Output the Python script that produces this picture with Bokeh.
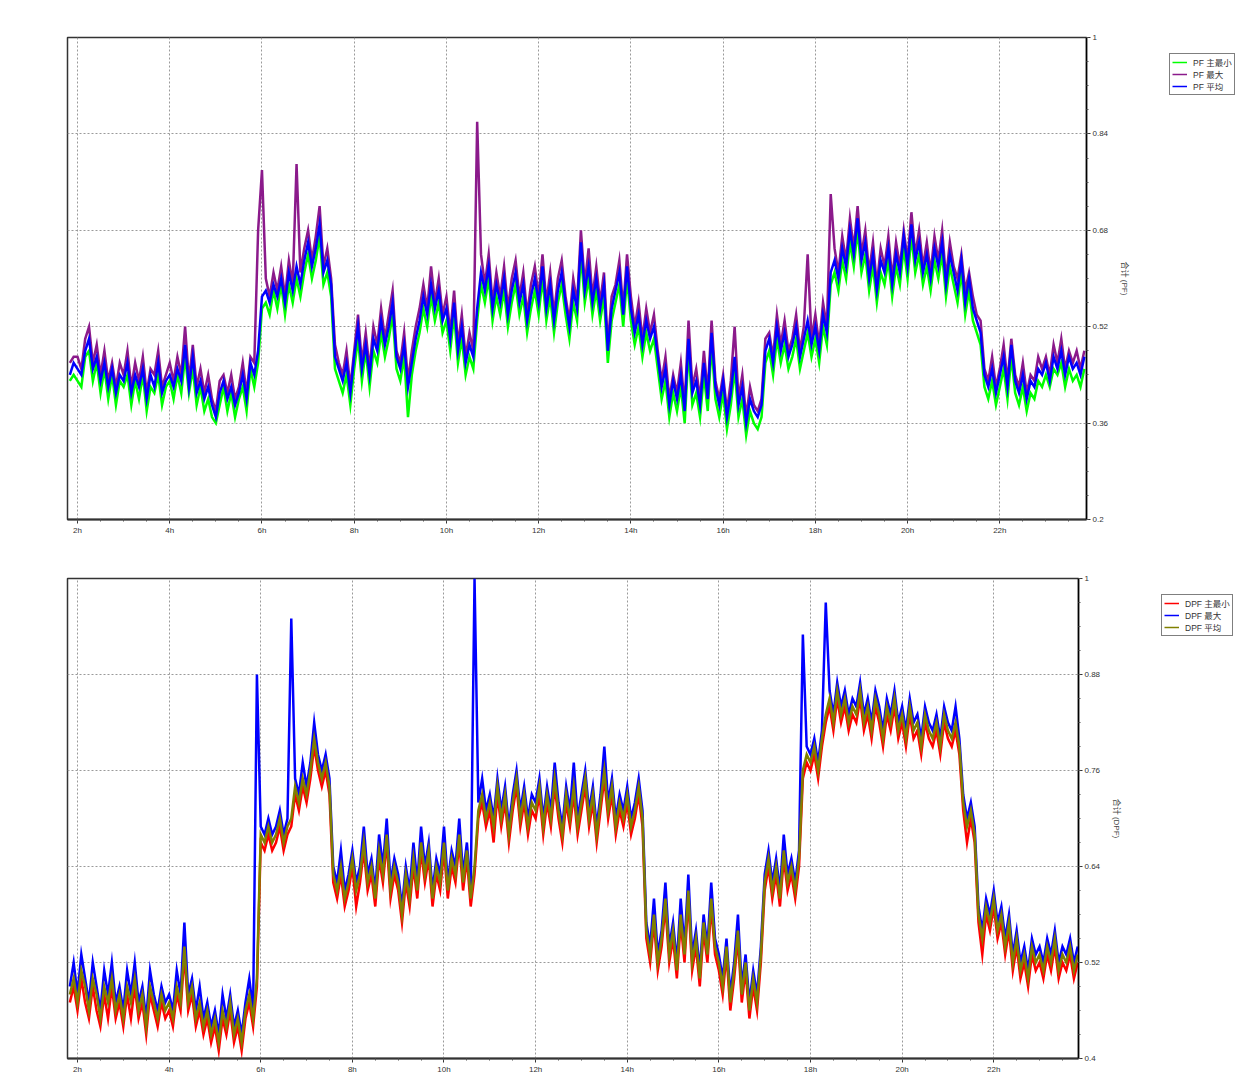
import numpy as np
from bokeh.plotting import figure
from bokeh.models import (Range1d, FixedTicker, CustomJSTickFormatter, Legend,
                          LegendItem, ColumnDataSource)
from bokeh.layouts import row
from bokeh.embed import file_html
from bokeh.resources import INLINE

# ---- sampling grid (5-minute samples starting 01:50) ----
START_HOUR = 1 + 50 / 60
STEP_HOURS = 5 / 60

# ---- panel 1 : PF ----
PF_MIN = [
    0.43, 0.44,
    0.43, 0.42, 0.47, 0.48, 0.43, 0.46, 0.41, 0.45, 0.40, 0.44, 0.39, 0.43,
    0.42, 0.44, 0.39, 0.43, 0.40, 0.44, 0.38, 0.42, 0.41, 0.44, 0.39, 0.42,
    0.43, 0.40, 0.44, 0.41, 0.47, 0.41, 0.45, 0.39, 0.42, 0.38, 0.40, 0.37,
    0.36, 0.39, 0.42, 0.38, 0.41, 0.37, 0.40, 0.42, 0.38, 0.45, 0.42, 0.46,
    0.55, 0.56, 0.54, 0.58, 0.55, 0.59, 0.54, 0.59, 0.56, 0.60, 0.57, 0.61,
    0.64, 0.60, 0.63, 0.67, 0.59, 0.61, 0.57, 0.45, 0.43, 0.41, 0.44, 0.39,
    0.45, 0.50, 0.43, 0.48, 0.42, 0.48, 0.46, 0.51, 0.47, 0.50, 0.54, 0.45,
    0.43, 0.47, 0.37, 0.44, 0.48, 0.51, 0.55, 0.52, 0.57, 0.53, 0.56, 0.51,
    0.53, 0.48, 0.54, 0.46, 0.50, 0.44, 0.47, 0.45, 0.53, 0.59, 0.56, 0.60,
    0.53, 0.57, 0.54, 0.58, 0.52, 0.56, 0.59, 0.54, 0.57, 0.51, 0.55, 0.58,
    0.54, 0.60, 0.53, 0.57, 0.51, 0.56, 0.59, 0.54, 0.50, 0.56, 0.53, 0.64,
    0.56, 0.60, 0.54, 0.58, 0.53, 0.57, 0.46, 0.53, 0.56, 0.59, 0.52, 0.60,
    0.53, 0.49, 0.52, 0.47, 0.51, 0.48, 0.50, 0.45, 0.40, 0.43, 0.37, 0.41,
    0.38, 0.42, 0.36, 0.48, 0.39, 0.41, 0.37, 0.44, 0.38, 0.49, 0.40, 0.37,
    0.41, 0.35, 0.39, 0.45, 0.37, 0.40, 0.34, 0.38, 0.36, 0.35, 0.37, 0.46,
    0.48, 0.44, 0.50, 0.46, 0.49, 0.45, 0.47, 0.50, 0.45, 0.48, 0.51, 0.47,
    0.50, 0.46, 0.52, 0.49, 0.59, 0.61, 0.58, 0.63, 0.60, 0.66, 0.62, 0.68,
    0.61, 0.64, 0.58, 0.62, 0.56, 0.61, 0.59, 0.63, 0.57, 0.62, 0.59, 0.65,
    0.60, 0.67, 0.61, 0.64, 0.59, 0.62, 0.58, 0.63, 0.60, 0.64, 0.57, 0.62,
    0.59, 0.56, 0.61, 0.54, 0.58, 0.53, 0.51, 0.49, 0.42, 0.40, 0.43, 0.39,
    0.42, 0.45, 0.40, 0.47, 0.41, 0.39, 0.42, 0.38, 0.41, 0.40, 0.43, 0.42,
    0.44, 0.42, 0.45, 0.44, 0.46, 0.42, 0.45, 0.43, 0.44, 0.42, 0.45,
]
PF_MAX = [
    0.46, 0.47,
    0.47, 0.45, 0.50, 0.52, 0.46, 0.49, 0.44, 0.48, 0.43, 0.46, 0.42, 0.46,
    0.44, 0.48, 0.42, 0.46, 0.43, 0.47, 0.41, 0.45, 0.44, 0.48, 0.42, 0.44,
    0.46, 0.43, 0.47, 0.44, 0.52, 0.43, 0.49, 0.42, 0.45, 0.41, 0.44, 0.40,
    0.38, 0.43, 0.44, 0.41, 0.44, 0.40, 0.42, 0.46, 0.41, 0.47, 0.46, 0.68,
    0.78, 0.60, 0.57, 0.61, 0.58, 0.62, 0.57, 0.63, 0.59, 0.79, 0.61, 0.65,
    0.68, 0.63, 0.67, 0.72, 0.62, 0.65, 0.60, 0.49, 0.46, 0.44, 0.48, 0.42,
    0.48, 0.54, 0.46, 0.51, 0.45, 0.52, 0.49, 0.55, 0.50, 0.54, 0.58, 0.48,
    0.46, 0.51, 0.43, 0.48, 0.52, 0.55, 0.59, 0.55, 0.62, 0.56, 0.60, 0.54,
    0.57, 0.51, 0.58, 0.49, 0.54, 0.47, 0.51, 0.48, 0.86, 0.64, 0.59, 0.64,
    0.56, 0.61, 0.57, 0.62, 0.55, 0.60, 0.63, 0.57, 0.61, 0.54, 0.59, 0.62,
    0.57, 0.64, 0.56, 0.61, 0.54, 0.60, 0.63, 0.57, 0.53, 0.60, 0.56, 0.68,
    0.59, 0.65, 0.57, 0.62, 0.56, 0.61, 0.49, 0.57, 0.59, 0.63, 0.55, 0.64,
    0.57, 0.52, 0.56, 0.50, 0.55, 0.51, 0.54, 0.48, 0.43, 0.47, 0.40, 0.44,
    0.41, 0.46, 0.39, 0.53, 0.42, 0.45, 0.40, 0.48, 0.41, 0.53, 0.43, 0.40,
    0.44, 0.38, 0.43, 0.52, 0.40, 0.44, 0.37, 0.42, 0.39, 0.38, 0.40, 0.50,
    0.51, 0.47, 0.54, 0.49, 0.53, 0.48, 0.50, 0.54, 0.48, 0.52, 0.64, 0.50,
    0.54, 0.49, 0.56, 0.52, 0.74, 0.65, 0.61, 0.67, 0.63, 0.70, 0.65, 0.72,
    0.64, 0.68, 0.61, 0.66, 0.59, 0.65, 0.62, 0.67, 0.60, 0.66, 0.62, 0.68,
    0.63, 0.71, 0.64, 0.68, 0.62, 0.66, 0.61, 0.67, 0.63, 0.68, 0.60, 0.66,
    0.62, 0.60, 0.64, 0.58, 0.61, 0.57, 0.54, 0.53, 0.45, 0.43, 0.47, 0.42,
    0.45, 0.49, 0.43, 0.50, 0.44, 0.42, 0.46, 0.41, 0.44, 0.43, 0.47, 0.45,
    0.47, 0.44, 0.49, 0.46, 0.50, 0.45, 0.48, 0.46, 0.48, 0.45, 0.48,
]
PF_AVG = [
    0.44, 0.46,
    0.45, 0.44, 0.48, 0.50, 0.45, 0.47, 0.43, 0.46, 0.42, 0.45, 0.41, 0.44,
    0.43, 0.46, 0.41, 0.44, 0.42, 0.45, 0.40, 0.44, 0.42, 0.46, 0.41, 0.43,
    0.44, 0.42, 0.45, 0.43, 0.49, 0.42, 0.47, 0.41, 0.43, 0.40, 0.42, 0.39,
    0.37, 0.41, 0.43, 0.40, 0.42, 0.39, 0.41, 0.44, 0.40, 0.46, 0.44, 0.48,
    0.57, 0.58, 0.56, 0.59, 0.57, 0.60, 0.56, 0.61, 0.58, 0.62, 0.59, 0.63,
    0.66, 0.62, 0.65, 0.69, 0.61, 0.63, 0.59, 0.47, 0.45, 0.43, 0.46, 0.41,
    0.47, 0.52, 0.45, 0.49, 0.44, 0.50, 0.48, 0.53, 0.49, 0.52, 0.56, 0.47,
    0.45, 0.49, 0.42, 0.46, 0.50, 0.53, 0.57, 0.54, 0.59, 0.55, 0.58, 0.53,
    0.55, 0.50, 0.56, 0.48, 0.52, 0.46, 0.49, 0.47, 0.55, 0.61, 0.58, 0.62,
    0.55, 0.59, 0.56, 0.60, 0.54, 0.58, 0.61, 0.56, 0.59, 0.53, 0.57, 0.60,
    0.56, 0.62, 0.55, 0.59, 0.53, 0.58, 0.61, 0.56, 0.52, 0.58, 0.55, 0.66,
    0.58, 0.62, 0.56, 0.60, 0.55, 0.59, 0.48, 0.55, 0.58, 0.61, 0.54, 0.62,
    0.55, 0.51, 0.54, 0.49, 0.53, 0.50, 0.52, 0.47, 0.42, 0.45, 0.39, 0.43,
    0.40, 0.44, 0.38, 0.50, 0.41, 0.43, 0.39, 0.46, 0.40, 0.51, 0.42, 0.39,
    0.43, 0.37, 0.41, 0.47, 0.39, 0.42, 0.36, 0.40, 0.38, 0.37, 0.39, 0.48,
    0.50, 0.46, 0.52, 0.48, 0.51, 0.47, 0.49, 0.52, 0.47, 0.50, 0.53, 0.49,
    0.52, 0.48, 0.54, 0.51, 0.61, 0.63, 0.60, 0.65, 0.62, 0.68, 0.64, 0.70,
    0.63, 0.66, 0.60, 0.64, 0.58, 0.63, 0.61, 0.65, 0.59, 0.64, 0.61, 0.67,
    0.62, 0.69, 0.63, 0.66, 0.61, 0.64, 0.60, 0.65, 0.62, 0.66, 0.59, 0.64,
    0.61, 0.58, 0.63, 0.56, 0.60, 0.55, 0.53, 0.51, 0.44, 0.42, 0.45, 0.41,
    0.44, 0.47, 0.42, 0.49, 0.43, 0.41, 0.44, 0.40, 0.43, 0.42, 0.45, 0.44,
    0.46, 0.43, 0.47, 0.45, 0.48, 0.44, 0.47, 0.45, 0.46, 0.44, 0.47,
]

# ---- panel 2 : DPF ----
DPF_MIN = [
    0.47, 0.49,
    0.46, 0.50, 0.47, 0.45, 0.49, 0.46, 0.44, 0.48, 0.45, 0.49, 0.45, 0.47,
    0.44, 0.48, 0.45, 0.49, 0.45, 0.47, 0.43, 0.48, 0.46, 0.44, 0.47, 0.45,
    0.46, 0.44, 0.48, 0.46, 0.53, 0.46, 0.48, 0.44, 0.46, 0.43, 0.45, 0.42,
    0.44, 0.41, 0.45, 0.43, 0.46, 0.42, 0.44, 0.41, 0.45, 0.47, 0.44, 0.49,
    0.67, 0.66, 0.68, 0.66, 0.67, 0.69, 0.66, 0.68, 0.69, 0.73, 0.71, 0.74,
    0.72, 0.75, 0.79, 0.76, 0.74, 0.76, 0.73, 0.62, 0.60, 0.63, 0.59, 0.61,
    0.64, 0.59, 0.62, 0.66, 0.61, 0.63, 0.59, 0.65, 0.62, 0.67, 0.60, 0.63,
    0.61, 0.57, 0.62, 0.59, 0.64, 0.60, 0.66, 0.62, 0.65, 0.59, 0.63, 0.61,
    0.66, 0.60, 0.64, 0.62, 0.67, 0.61, 0.65, 0.59, 0.63, 0.70, 0.72, 0.69,
    0.71, 0.67, 0.73, 0.69, 0.72, 0.67, 0.71, 0.74, 0.69, 0.72, 0.68, 0.71,
    0.70, 0.73, 0.68, 0.72, 0.69, 0.74, 0.70, 0.67, 0.72, 0.69, 0.73, 0.68,
    0.71, 0.74, 0.69, 0.72, 0.67, 0.71, 0.75, 0.70, 0.73, 0.68, 0.71, 0.69,
    0.72, 0.68, 0.70, 0.73, 0.69, 0.55, 0.52, 0.57, 0.51, 0.54, 0.59, 0.52,
    0.55, 0.50, 0.57, 0.52, 0.60, 0.51, 0.54, 0.49, 0.56, 0.52, 0.59, 0.53,
    0.51, 0.48, 0.53, 0.46, 0.50, 0.55, 0.47, 0.51, 0.45, 0.49, 0.46, 0.52,
    0.61, 0.64, 0.60, 0.63, 0.59, 0.65, 0.61, 0.63, 0.60, 0.64, 0.75, 0.77,
    0.76, 0.78, 0.75, 0.79, 0.82, 0.84, 0.81, 0.85, 0.82, 0.84, 0.81, 0.83,
    0.82, 0.85, 0.81, 0.83, 0.80, 0.84, 0.82, 0.79, 0.83, 0.81, 0.84, 0.80,
    0.82, 0.79, 0.83, 0.80, 0.81, 0.78, 0.82, 0.80, 0.79, 0.81, 0.78, 0.82,
    0.80, 0.79, 0.81, 0.78, 0.71, 0.67, 0.70, 0.67, 0.57, 0.53, 0.58, 0.56,
    0.59, 0.55, 0.57, 0.53, 0.56, 0.51, 0.54, 0.50, 0.52, 0.49, 0.53, 0.51,
    0.52, 0.50, 0.53, 0.51, 0.54, 0.50, 0.52, 0.51, 0.53, 0.50, 0.52,
]
DPF_MAX = [
    0.49, 0.52,
    0.48, 0.53, 0.50, 0.47, 0.52, 0.49, 0.46, 0.51, 0.48, 0.52, 0.47, 0.49,
    0.46, 0.51, 0.48, 0.52, 0.47, 0.49, 0.45, 0.51, 0.48, 0.46, 0.49, 0.47,
    0.48, 0.46, 0.51, 0.48, 0.57, 0.48, 0.50, 0.46, 0.49, 0.45, 0.47, 0.44,
    0.46, 0.43, 0.48, 0.45, 0.48, 0.44, 0.46, 0.43, 0.47, 0.50, 0.46, 0.88,
    0.69, 0.68, 0.70, 0.68, 0.69, 0.71, 0.68, 0.70, 0.95, 0.75, 0.73, 0.77,
    0.74, 0.77, 0.82, 0.78, 0.76, 0.78, 0.75, 0.64, 0.62, 0.66, 0.61, 0.63,
    0.66, 0.62, 0.64, 0.69, 0.63, 0.65, 0.61, 0.68, 0.64, 0.70, 0.62, 0.65,
    0.63, 0.59, 0.64, 0.61, 0.67, 0.62, 0.69, 0.64, 0.67, 0.61, 0.65, 0.63,
    0.69, 0.62, 0.66, 0.64, 0.70, 0.63, 0.67, 0.61, 1.00, 0.72, 0.75, 0.71,
    0.73, 0.70, 0.75, 0.71, 0.74, 0.69, 0.73, 0.76, 0.71, 0.74, 0.70, 0.73,
    0.72, 0.75, 0.70, 0.74, 0.71, 0.77, 0.72, 0.69, 0.74, 0.71, 0.77, 0.70,
    0.73, 0.76, 0.71, 0.74, 0.69, 0.73, 0.79, 0.72, 0.75, 0.70, 0.73, 0.71,
    0.74, 0.70, 0.72, 0.75, 0.71, 0.57, 0.54, 0.60, 0.53, 0.56, 0.62, 0.54,
    0.57, 0.52, 0.60, 0.54, 0.63, 0.53, 0.56, 0.51, 0.58, 0.54, 0.62, 0.55,
    0.53, 0.50, 0.55, 0.48, 0.52, 0.58, 0.49, 0.53, 0.47, 0.51, 0.48, 0.54,
    0.63, 0.66, 0.62, 0.65, 0.61, 0.68, 0.63, 0.65, 0.62, 0.66, 0.93, 0.79,
    0.78, 0.80, 0.77, 0.81, 0.97, 0.86, 0.83, 0.87, 0.84, 0.86, 0.83, 0.85,
    0.84, 0.87, 0.83, 0.85, 0.82, 0.86, 0.84, 0.81, 0.85, 0.83, 0.86, 0.82,
    0.84, 0.81, 0.85, 0.82, 0.83, 0.80, 0.84, 0.82, 0.81, 0.83, 0.80, 0.84,
    0.82, 0.81, 0.84, 0.80, 0.73, 0.70, 0.72, 0.69, 0.59, 0.56, 0.60, 0.58,
    0.61, 0.57, 0.59, 0.55, 0.58, 0.53, 0.56, 0.52, 0.54, 0.51, 0.55, 0.53,
    0.54, 0.52, 0.55, 0.53, 0.56, 0.52, 0.54, 0.53, 0.55, 0.52, 0.54,
]
DPF_AVG = [
    0.48, 0.50,
    0.47, 0.51, 0.49, 0.46, 0.50, 0.48, 0.45, 0.49, 0.47, 0.50, 0.46, 0.48,
    0.45, 0.49, 0.47, 0.50, 0.46, 0.48, 0.44, 0.49, 0.47, 0.45, 0.48, 0.46,
    0.47, 0.45, 0.49, 0.47, 0.54, 0.47, 0.49, 0.45, 0.47, 0.44, 0.46, 0.43,
    0.45, 0.42, 0.46, 0.44, 0.47, 0.43, 0.45, 0.42, 0.46, 0.48, 0.45, 0.50,
    0.68, 0.67, 0.69, 0.67, 0.68, 0.70, 0.67, 0.69, 0.70, 0.74, 0.72, 0.75,
    0.73, 0.76, 0.80, 0.77, 0.75, 0.77, 0.74, 0.63, 0.61, 0.64, 0.60, 0.62,
    0.65, 0.61, 0.63, 0.67, 0.62, 0.64, 0.60, 0.66, 0.63, 0.68, 0.61, 0.64,
    0.62, 0.58, 0.63, 0.60, 0.65, 0.61, 0.67, 0.63, 0.66, 0.60, 0.64, 0.62,
    0.67, 0.61, 0.65, 0.63, 0.68, 0.62, 0.66, 0.60, 0.64, 0.71, 0.73, 0.70,
    0.72, 0.69, 0.74, 0.70, 0.73, 0.68, 0.72, 0.75, 0.70, 0.73, 0.69, 0.72,
    0.71, 0.74, 0.69, 0.73, 0.70, 0.75, 0.71, 0.68, 0.73, 0.70, 0.74, 0.69,
    0.72, 0.75, 0.70, 0.73, 0.68, 0.72, 0.76, 0.71, 0.74, 0.69, 0.72, 0.70,
    0.73, 0.69, 0.71, 0.74, 0.70, 0.56, 0.53, 0.58, 0.52, 0.55, 0.60, 0.53,
    0.56, 0.51, 0.58, 0.53, 0.61, 0.52, 0.55, 0.50, 0.57, 0.53, 0.60, 0.54,
    0.52, 0.49, 0.54, 0.47, 0.51, 0.56, 0.48, 0.52, 0.46, 0.50, 0.47, 0.53,
    0.62, 0.65, 0.61, 0.64, 0.60, 0.66, 0.62, 0.64, 0.61, 0.65, 0.76, 0.78,
    0.77, 0.79, 0.76, 0.80, 0.83, 0.85, 0.82, 0.86, 0.83, 0.85, 0.82, 0.84,
    0.83, 0.86, 0.82, 0.84, 0.81, 0.85, 0.83, 0.80, 0.84, 0.82, 0.85, 0.81,
    0.83, 0.80, 0.84, 0.81, 0.82, 0.79, 0.83, 0.81, 0.80, 0.82, 0.79, 0.83,
    0.81, 0.80, 0.82, 0.79, 0.72, 0.69, 0.71, 0.68, 0.58, 0.55, 0.59, 0.57,
    0.60, 0.56, 0.58, 0.54, 0.57, 0.52, 0.55, 0.51, 0.53, 0.50, 0.54, 0.52,
    0.53, 0.51, 0.54, 0.52, 0.55, 0.51, 0.53, 0.52, 0.54, 0.51, 0.53,
]

X_TICKS = [2, 4, 6, 8, 10, 12, 14, 16, 18, 20, 22]
PF_Y_TICKS = [0.2, 0.36, 0.52, 0.68, 0.84, 1.0]
DPF_Y_TICKS = [0.4, 0.52, 0.64, 0.76, 0.88, 1.0]

PF_LABELS = ["PF 主最小", "PF 最大", "PF 平均"]
DPF_LABELS = ["DPF 主最小", "DPF 最大", "DPF 平均"]
PF_AXIS_TITLE = "合计 (PF)"
DPF_AXIS_TITLE = "合计 (DPF)"

FONT = "'Liberation Sans', 'Noto Sans CJK SC', sans-serif"
PAGE_W = 1256


def panel(series, labels, colors, draw_order, y_ticks, y_title, x_range,
          height, border_top, border_bottom, frame_right, legend_left, legend_loc_y):
    n = len(series[0])
    t = START_HOUR + np.arange(n) * STEP_HOURS
    src = ColumnDataSource({"t": t, "a": series[0], "b": series[1], "c": series[2]})
    keys = ["a", "b", "c"]

    main_w = frame_right + 45
    p = figure(width=main_w, height=height, x_range=Range1d(*x_range),
               y_range=Range1d(y_ticks[0], y_ticks[-1]), y_axis_location="right",
               output_backend="svg", toolbar_location=None,
               min_border_left=67, min_border_right=45,
               min_border_top=border_top, min_border_bottom=border_bottom,
               background_fill_color="white", border_fill_color="white")
    p.outline_line_color = "#333333"
    p.outline_line_width = 1.5

    step = (y_ticks[1] - y_ticks[0]) / 4
    minor_y = [y_ticks[0] + i * step for i in range(int(round((y_ticks[-1] - y_ticks[0]) / step)) + 1)]
    minor_x = [h / 2 for h in range(3, 48)]

    p.xaxis.ticker = FixedTicker(ticks=X_TICKS, minor_ticks=minor_x)
    p.xaxis.formatter = CustomJSTickFormatter(code="return tick + 'h';")
    p.yaxis.ticker = FixedTicker(ticks=y_ticks, minor_ticks=minor_y)
    p.yaxis.formatter = CustomJSTickFormatter(code="return String(parseFloat(tick.toFixed(2)));")

    for ax in (p.xaxis[0], p.yaxis[0]):
        ax.major_label_text_font = FONT
        ax.major_label_text_font_size = "8px"
        ax.major_label_text_color = "#333333"
        ax.major_tick_in = 0
        ax.major_tick_out = 4
        ax.minor_tick_in = 0
        ax.minor_tick_out = 2
        ax.major_tick_line_color = "#333333"
        ax.minor_tick_line_color = "#555555"
        ax.major_label_standoff = 2
    p.xaxis.axis_line_color = "#333333"
    p.xaxis.axis_line_width = 2
    p.yaxis.axis_line_color = "black"
    p.yaxis.axis_line_width = 1.5
    p.yaxis.axis_label = y_title
    p.yaxis.axis_label_text_font = FONT
    p.yaxis.axis_label_text_font_size = "8px"
    p.yaxis.axis_label_text_font_style = "normal"
    p.yaxis.axis_label_text_color = "#444444"
    p.yaxis.axis_label_standoff = 9

    for g in (p.xgrid[0], p.ygrid[0]):
        g.grid_line_color = "#9a9a9a"
        g.grid_line_dash = "2 2"
        g.grid_line_width = 1

    for k in draw_order:
        p.line("t", keys[k], source=src, color=colors[k], line_width=2.5,
               line_join="miter")

    # legend lives in a small side figure to the right of the chart
    lw = PAGE_W - main_w
    lf = figure(width=lw, height=height, x_range=Range1d(-1, 0), y_range=Range1d(0, 1),
                x_axis_location=None, y_axis_location=None,
                output_backend="svg", toolbar_location=None,
                min_border_left=0, min_border_right=0,
                min_border_top=border_top, min_border_bottom=border_bottom,
                outline_line_color=None, background_fill_color="white",
                border_fill_color="white")
    lf.grid.visible = False
    proxies = [lf.line("t", keys[k], source=src, color=colors[k], line_width=1.5)
               for k in range(3)]
    items = [LegendItem(label=labels[k], renderers=[proxies[k]]) for k in range(3)]
    leg = Legend(items=items, location=(legend_left - main_w, legend_loc_y))
    leg.label_text_font = FONT
    leg.label_text_font_size = "8.5px"
    leg.label_text_color = "#333333"
    leg.glyph_width = 15
    leg.glyph_height = 10
    leg.label_height = 10
    leg.label_standoff = 6
    leg.spacing = 0
    leg.padding = 2
    leg.margin = 0
    leg.border_line_color = "black"
    leg.border_line_width = 1
    leg.background_fill_alpha = 1
    lf.add_layout(leg)
    return row(p, lf, spacing=0)


r1 = panel([PF_MIN, PF_MAX, PF_AVG], PF_LABELS, ["#00ff00", "#8b1a8b", "#0000ff"],
           [1, 0, 2], PF_Y_TICKS, PF_AXIS_TITLE, (1.783, 23.88),
           538, 37, 19, 1087, 1169, 519 - 95)
r2 = panel([DPF_MIN, DPF_MAX, DPF_AVG], DPF_LABELS, ["#ff0000", "#0000ff", "#808000"],
           [0, 1, 2], DPF_Y_TICKS, DPF_AXIS_TITLE, (1.782, 23.85),
           538, 40, 16, 1079, 1161, 1057 - 635)

open("out.html", "w").write(file_html([r1, r2], INLINE))
